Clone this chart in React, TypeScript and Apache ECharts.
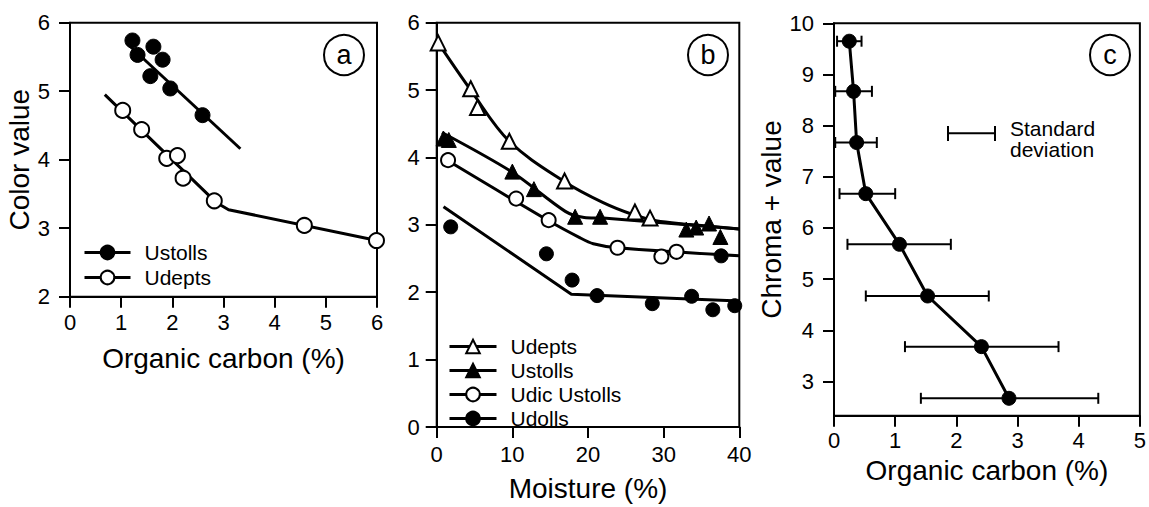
import React, { useEffect, useRef } from 'react';
import * as echarts from 'echarts';

const FONT = '"Liberation Sans", Arial, Helvetica, sans-serif';

// ---------- Panel a ----------
const aXTicks = [0, 1, 2, 3, 4, 5, 6];
const aYTicks = [2, 3, 4, 5, 6];
const aUstollsX = [1.22, 1.32, 1.63, 1.81, 1.57, 1.96, 2.59];
const aUstollsY = [5.74, 5.53, 5.65, 5.46, 5.22, 5.04, 4.65];
const aUdeptsX = [1.03, 1.40, 1.89, 2.10, 2.21, 2.82, 4.58, 5.99];
const aUdeptsY = [4.72, 4.44, 4.02, 4.06, 3.73, 3.40, 3.04, 2.82];
const aUstollsFitX = [1.11, 3.33];
const aUstollsFitY = [5.70, 4.16];
const aUdeptsFitX = [0.68, 2.85, 3.1, 6.0];
const aUdeptsFitY = [4.95, 3.38, 3.27, 2.82];

// ---------- Panel b ----------
const bXTicks = [0, 10, 20, 30, 40];
const bYTicks = [0, 1, 2, 3, 4, 5, 6];
const bUdeptsX = [0.2, 4.5, 5.4, 9.6, 16.9, 26.2, 28.2];
const bUdeptsY = [5.70, 5.02, 4.74, 4.24, 3.65, 3.19, 3.10];
const bUstollsX = [0.9, 1.6, 10.0, 12.85, 18.3, 21.6, 33.0, 34.3, 36.0, 37.5];
const bUstollsY = [4.28, 4.26, 3.79, 3.53, 3.12, 3.12, 2.93, 2.96, 3.02, 2.82];
const bUdicX = [1.5, 10.5, 14.8, 23.9, 29.7, 31.7];
const bUdicY = [3.96, 3.39, 3.07, 2.66, 2.53, 2.60];
const bUdollsX = [1.85, 14.5, 17.9, 21.2, 28.5, 33.7, 36.5, 39.4, 37.6];
const bUdollsY = [2.97, 2.57, 2.18, 1.95, 1.83, 1.94, 1.74, 1.80, 2.54];
const bUdeptsFitX = [0.2, 4.5, 9.6, 16.9, 22, 26, 29, 33, 40];
const bUdeptsFitY = [5.70, 5.0, 4.24, 3.64, 3.33, 3.15, 3.06, 3.01, 2.94];
const bUstollsFitX = [0.7, 10, 17, 19.5, 22, 40];
const bUstollsFitY = [4.37, 3.78, 3.2, 3.11, 3.1, 2.94];
const bUdicFitX = [1.5, 14.8, 18.9, 20.7, 23.9, 40];
const bUdicFitY = [3.95, 3.06, 2.81, 2.72, 2.66, 2.54];
const bUdollsFitX = [0.9, 17.8, 40];
const bUdollsFitY = [3.27, 1.97, 1.87];

// ---------- Panel c ----------
const cXTicks = [0, 1, 2, 3, 4, 5];
const cYTicks = [3, 4, 5, 6, 7, 8, 9, 10];
const cYMin = 2.33;
const cX = [0.25, 0.32, 0.37, 0.52, 1.07, 1.53, 2.41, 2.86];
const cY = [9.65, 8.67, 7.67, 6.67, 5.68, 4.67, 3.68, 2.67];
const cLow = [0.05, 0.02, 0.02, 0.09, 0.22, 0.52, 1.16, 1.42];
const cHigh = [0.45, 0.62, 0.70, 1.0, 1.91, 2.53, 3.67, 4.32];

const LABELS: Record<string, string> = {
  aUstolls: 'Ustolls',
  aUdepts: 'Udepts',
  bUdepts: 'Udepts',
  bUstolls: 'Ustolls',
  bUdic: 'Udic Ustolls',
  bUdolls: 'Udolls',
};

const zip = (xs: number[], ys: number[]) => xs.map((x, i) => [x, ys[i]]);

const OPEN = { color: '#fff', borderColor: '#000', borderWidth: 2, opacity: 1 };
const FILLED = { color: '#000', borderColor: '#000', borderWidth: 1, opacity: 1 };

function xAxis(gridIndex: number, ticks: number[], name: string, nameGap: number, margin: number) {
  return {
    type: 'value',
    gridIndex,
    min: ticks[0],
    max: ticks[ticks.length - 1],
    interval: ticks[1] - ticks[0],
    name,
    nameLocation: 'middle',
    nameGap,
    nameTextStyle: { fontFamily: FONT, fontSize: 28, color: '#000' },
    axisLine: { show: true, onZero: false, lineStyle: { color: '#000', width: 2 } },
    axisTick: { show: true, inside: false, length: 11, lineStyle: { color: '#000', width: 2 } },
    axisLabel: { margin, fontFamily: FONT, fontSize: 22, color: '#000' },
    splitLine: { show: false },
  };
}

function yAxis(gridIndex: number, ticks: number[], name: string, nameGap: number, margin: number, min?: number) {
  const base: any = {
    type: 'value',
    gridIndex,
    min: min !== undefined ? min : ticks[0],
    max: ticks[ticks.length - 1],
    name,
    nameLocation: 'middle',
    nameGap,
    nameTextStyle: { fontFamily: FONT, fontSize: 28, color: '#000' },
    axisLine: { show: true, onZero: false, lineStyle: { color: '#000', width: 2 } },
    axisTick: { show: true, inside: false, length: 11, lineStyle: { color: '#000', width: 2 } },
    axisLabel: { margin, fontFamily: FONT, fontSize: 22, color: '#000' },
    splitLine: { show: false },
  };
  if (min !== undefined) {
    base.axisTick.customValues = ticks;
    base.axisLabel.customValues = ticks;
  } else {
    base.interval = ticks[1] - ticks[0];
  }
  return base;
}

function scatter(idx: number, xs: number[], ys: number[], symbol: string, style: any, size = 14) {
  return {
    type: 'scatter',
    xAxisIndex: idx,
    yAxisIndex: idx,
    symbol,
    symbolSize: size,
    itemStyle: style,
    data: zip(xs, ys),
    z: 4,
    silent: true,
  };
}

function fit(idx: number, name: string, xs: number[], ys: number[], symbol: string, style: any, smooth: number | boolean = false) {
  return {
    type: 'line',
    name,
    xAxisIndex: idx,
    yAxisIndex: idx,
    data: zip(xs, ys),
    symbol,
    symbolSize: 14,
    showSymbol: false,
    smooth,
    lineStyle: { color: '#000', width: 3 },
    itemStyle: style,
    z: 2,
    silent: true,
  };
}

function legend(names: string[], left: number, top: number, itemWidth: number, itemGap: number) {
  return {
    data: names,
    orient: 'vertical',
    left,
    top,
    padding: 0,
    itemWidth,
    itemHeight: 17,
    itemGap,
    selectedMode: false,
    formatter: (n: string) => LABELS[n],
    textStyle: { fontFamily: FONT, fontSize: 21, color: '#000', lineHeight: 21, padding: [0, 0, 0, 9] },
    lineStyle: { color: '#000', width: 3 },
  };
}

function circleLabel(t: string, x: number, y: number) {
  return {
    type: 'group',
    children: [
      { type: 'circle', shape: { cx: x, cy: y, r: 20 }, style: { fill: '#fff', stroke: '#000', lineWidth: 2 } },
      {
        type: 'text',
        x,
        y,
        style: {
          text: t,
          fontFamily: FONT,
          fontSize: 27,
          fill: '#000',
          align: 'center',
          verticalAlign: 'middle',
          textAlign: 'center',
          textVerticalAlign: 'middle',
        },
      },
    ],
  };
}

export default function App() {
  const ref = useRef<HTMLDivElement>(null);
  useEffect(() => {
    if (!ref.current) return;
    const chart = echarts.init(ref.current, undefined, { renderer: 'svg' });
    const gridStyle = { show: true, borderColor: '#000', borderWidth: 2, backgroundColor: 'transparent' };
    const option: any = {
      animation: false,
      backgroundColor: '#fff',
      grid: [
        { ...gridStyle, left: 70, top: 22.7, width: 307, height: 274 },
        { ...gridStyle, left: 436.7, top: 22.7, width: 302.6, height: 410 },
        { ...gridStyle, left: 834, top: 23.3, width: 308.7, height: 392.4 },
      ],
      xAxis: [
        xAxis(0, aXTicks, 'Organic carbon (%)', 48, 15),
        xAxis(1, bXTicks, 'Moisture (%)', 47, 16),
        xAxis(2, cXTicks, 'Organic carbon (%)', 41, 14),
      ],
      yAxis: [
        yAxis(0, aYTicks, 'Color value', 34, 20),
        yAxis(1, bYTicks, '', 20, 17),
        yAxis(2, cYTicks, 'Chroma + value', 43, 20, cYMin),
      ],
      legend: [
        legend(['aUstolls', 'aUdepts'], 83, 242, 46, 4),
        legend(['bUdepts', 'bUstolls', 'bUdic', 'bUdolls'], 448, 336, 47, 3),
      ],
      series: [
        // panel a
        fit(0, 'aUstolls', aUstollsFitX, aUstollsFitY, 'circle', FILLED),
        fit(0, 'aUdepts', aUdeptsFitX, aUdeptsFitY, 'circle', OPEN),
        scatter(0, aUstollsX, aUstollsY, 'circle', FILLED, 15),
        scatter(0, aUdeptsX, aUdeptsY, 'circle', OPEN, 15),
        // panel b
        fit(1, 'bUdepts', bUdeptsFitX, bUdeptsFitY, 'triangle', OPEN, 0.35),
        fit(1, 'bUstolls', bUstollsFitX, bUstollsFitY, 'triangle', FILLED, 0.3),
        fit(1, 'bUdic', bUdicFitX, bUdicFitY, 'circle', OPEN, 0.3),
        fit(1, 'bUdolls', bUdollsFitX, bUdollsFitY, 'circle', FILLED),
        scatter(1, bUdeptsX, bUdeptsY, 'triangle', OPEN, 15),
        scatter(1, bUstollsX, bUstollsY, 'triangle', FILLED, 15),
        scatter(1, bUdicX, bUdicY, 'circle', OPEN, 14),
        scatter(1, bUdollsX, bUdollsY, 'circle', FILLED, 14),
        // panel c
        {
          type: 'custom',
          xAxisIndex: 2,
          yAxisIndex: 2,
          data: cY.map((y, i) => [cLow[i], cHigh[i], y]),
          encode: { x: [0, 1], y: 2 },
          z: 2,
          silent: true,
          renderItem: (params: any, api: any) => {
            const y = api.value(2);
            const p1 = api.coord([api.value(0), y]);
            const p2 = api.coord([api.value(1), y]);
            const s = { stroke: '#000', lineWidth: 2 };
            const h = 5.5;
            return {
              type: 'group',
              children: [
                { type: 'line', shape: { x1: p1[0], y1: p1[1], x2: p2[0], y2: p2[1] }, style: s },
                { type: 'line', shape: { x1: p1[0], y1: p1[1] - h, x2: p1[0], y2: p1[1] + h }, style: s },
                { type: 'line', shape: { x1: p2[0], y1: p2[1] - h, x2: p2[0], y2: p2[1] + h }, style: s },
              ],
            };
          },
        },
        {
          type: 'line',
          xAxisIndex: 2,
          yAxisIndex: 2,
          data: zip(cX, cY),
          symbol: 'circle',
          symbolSize: 14,
          lineStyle: { color: '#000', width: 3 },
          itemStyle: FILLED,
          z: 3,
          silent: true,
        },
      ],
      graphic: [
        circleLabel('a', 344, 55),
        circleLabel('b', 708, 55),
        circleLabel('c', 1110, 55),
        { type: 'line', shape: { x1: 948, y1: 133.3, x2: 995, y2: 133.3 }, style: { stroke: '#000', lineWidth: 2 } },
        { type: 'line', shape: { x1: 948, y1: 126, x2: 948, y2: 141 }, style: { stroke: '#000', lineWidth: 2 } },
        { type: 'line', shape: { x1: 995, y1: 126, x2: 995, y2: 141 }, style: { stroke: '#000', lineWidth: 2 } },
        {
          type: 'text',
          x: 1010,
          y: 128,
          style: { text: 'Standard', fontFamily: FONT, fontSize: 21, fill: '#000', verticalAlign: 'middle', textVerticalAlign: 'middle' },
        },
        {
          type: 'text',
          x: 1010,
          y: 149,
          style: { text: 'deviation', fontFamily: FONT, fontSize: 21, fill: '#000', verticalAlign: 'middle', textVerticalAlign: 'middle' },
        },
      ],
    };
    chart.setOption(option);
    return () => chart.dispose();
  }, []);
  return (
    <div
      ref={ref}
      style={{ position: 'fixed', left: 0, top: 0, width: 1149, height: 507, background: '#fff' }}
    />
  );
}
